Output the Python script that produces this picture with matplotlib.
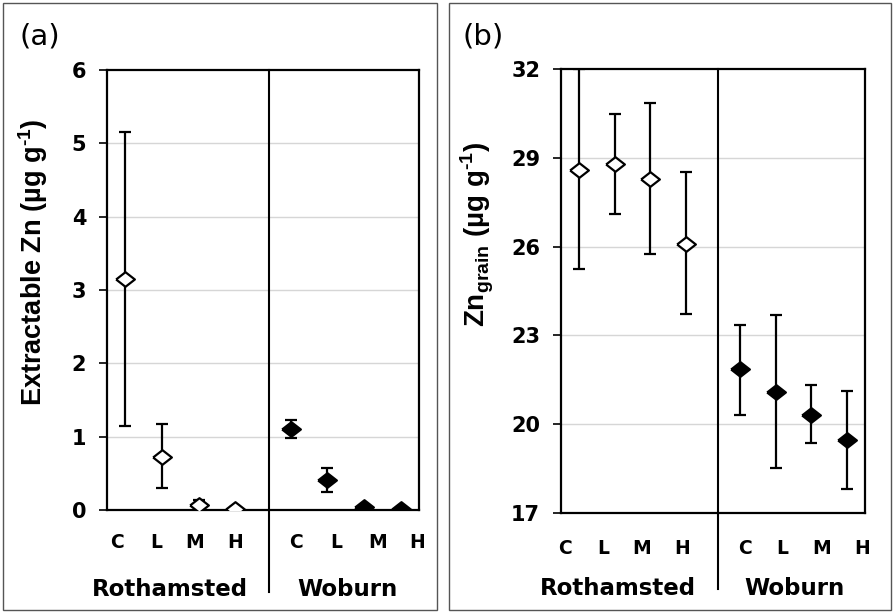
import numpy as np
import matplotlib
matplotlib.use('Agg')
import matplotlib.pyplot as plt
import matplotlib.patches as mpatches

plt.rcParams['font.family'] = ['Liberation Sans', 'DejaVu Sans']
plt.rcParams['mathtext.fontset'] = 'custom'
plt.rcParams['mathtext.rm'] = 'Liberation Sans:bold'
plt.rcParams['mathtext.bf'] = 'Liberation Sans:bold'

# treatments and sites
treatments = ['C', 'L', 'M', 'H']
sites = ['Rothamsted', 'Woburn']

# (a) extractable soil Zn, ug/g: mean, lower and upper error bar ends
zn_soil_roth = [3.15, 0.72, 0.07, 0.02]
zn_soil_roth_lo = [1.15, 0.30, 0.01, 0.00]
zn_soil_roth_hi = [5.16, 1.17, 0.14, 0.04]
zn_soil_wob = [1.11, 0.41, 0.04, 0.02]
zn_soil_wob_lo = [0.98, 0.25, 0.02, 0.01]
zn_soil_wob_hi = [1.23, 0.57, 0.06, 0.03]

# (b) grain Zn, ug/g
zn_grain_roth = [28.6, 28.8, 28.3, 26.1]
zn_grain_roth_lo = [25.25, 27.1, 25.75, 23.73]
zn_grain_roth_hi = [32.0, 30.47, 30.85, 28.52]
zn_grain_wob = [21.85, 21.1, 20.32, 19.47]
zn_grain_wob_lo = [20.32, 18.53, 19.35, 17.8]
zn_grain_wob_hi = [23.35, 23.68, 21.33, 21.13]

x_roth = np.array([1, 2, 3, 4])
x_wob = np.array([5.5, 6.5, 7.5, 8.5])

# wide, flat diamond like the Excel marker
diamond = [(-1, 0), (0, 0.78), (1, 0), (0, -0.78), (-1, 0)]

label_font = 'DejaVu Sans'

fig = plt.figure(figsize=(8.94, 6.13), dpi=100)
W, H = 894.0, 613.0

# panel frames
for x0, x1 in [(3, 437), (449, 891)]:
    fig.patches.append(mpatches.Rectangle((x0 / W, 3 / H), (x1 - x0) / W, 607 / H,
                                          transform=fig.transFigure, fill=False,
                                          edgecolor='#555555', linewidth=1.0))


def draw_panel(ax, roth, roth_lo, roth_hi, wob, wob_lo, wob_hi, ylim, yticks,
               divider, lab_x, lab_y, grp_x, grp_y, div_bottom):
    for yt in yticks[1:-1]:
        ax.axhline(yt, color='#d6d6d6', linewidth=1.0, zorder=0)
    roth, wob = np.array(roth), np.array(wob)
    err_r = [roth - np.array(roth_lo), np.array(roth_hi) - roth]
    err_w = [wob - np.array(wob_lo), np.array(wob_hi) - wob]
    kw = dict(fmt='none', ecolor='black', elinewidth=1.6, capsize=4, capthick=1.6, zorder=3)
    ax.errorbar(x_roth, roth, yerr=err_r, **kw)
    ax.errorbar(x_wob, wob, yerr=err_w, **kw)
    ax.plot(x_roth, roth, linestyle='none', marker=diamond, ms=13.5,
            mfc='white', mec='black', mew=1.6, zorder=4)
    ax.plot(x_wob, wob, linestyle='none', marker=diamond, ms=13.5,
            mfc='black', mec='black', mew=1.6, zorder=4)
    ax.set_xlim(0.5, 9.0)
    ax.set_ylim(*ylim)
    ax.set_yticks(yticks)
    ax.set_yticklabels([str(t) for t in yticks], fontsize=15, fontweight='bold',
                       family=label_font)
    ax.tick_params(axis='y', direction='out', length=6, width=1.2, pad=9)
    ax.set_xticks([])
    for s in ax.spines.values():
        s.set_linewidth(1.6)
    tr = ax.get_xaxis_transform()
    ax.plot([divider, divider], [1, div_bottom], color='black', linewidth=1.5,
            transform=tr, clip_on=False, zorder=4)
    for xs, lab in zip(lab_x, treatments * 2):
        ax.text(xs, lab_y, lab, transform=tr, ha='center', va='center',
                fontsize=13.5, fontweight='bold', family=label_font)
    for xs, site in zip(grp_x, sites):
        ax.text(xs, grp_y, site, transform=tr, ha='center', va='center',
                fontsize=16.5, fontweight='bold', family=label_font)


ax1 = fig.add_axes([107 / W, 1 - 510 / H, (419 - 107) / W, 440 / H])
draw_panel(ax1, zn_soil_roth, zn_soil_roth_lo, zn_soil_roth_hi,
           zn_soil_wob, zn_soil_wob_lo, zn_soil_wob_hi,
           (0, 6), [0, 1, 2, 3, 4, 5, 6], 4.91,
           [0.77, 1.83, 2.89, 3.98, 5.66, 6.75, 7.87, 8.95], -0.075,
           [2.22, 7.04], -0.18, -0.186)

ax2 = fig.add_axes([561 / W, 1 - 513 / H, (865 - 561) / W, 444 / H])
draw_panel(ax2, zn_grain_roth, zn_grain_roth_lo, zn_grain_roth_hi,
           zn_grain_wob, zn_grain_wob_lo, zn_grain_wob_hi,
           (17, 32), [17, 20, 23, 26, 29, 32], 4.89,
           [0.61, 1.68, 2.76, 3.88, 5.64, 6.70, 7.79, 8.91], -0.079,
           [2.09, 7.04], -0.171, -0.171)

# y axis titles
fig.text(33 / W, 1 - 262 / H, 'Extractable Zn (µg g$^{\\text{-1}}$)', rotation=90,
         ha='center', va='center', fontsize=19.5, fontweight='bold')
fig.text(477 / W, 1 - 234 / H, 'Zn$_{\\text{grain}}$ (µg g$^{\\text{-1}}$)', rotation=90,
         ha='center', va='center', fontsize=20, fontweight='bold')

fig.text(40 / W, 1 - 36 / H, '(a)', fontsize=21, va='center', ha='center', family=label_font)
fig.text(483 / W, 1 - 36 / H, '(b)', fontsize=21, va='center', ha='center', family=label_font)

fig.savefig('out.png', dpi=100)
